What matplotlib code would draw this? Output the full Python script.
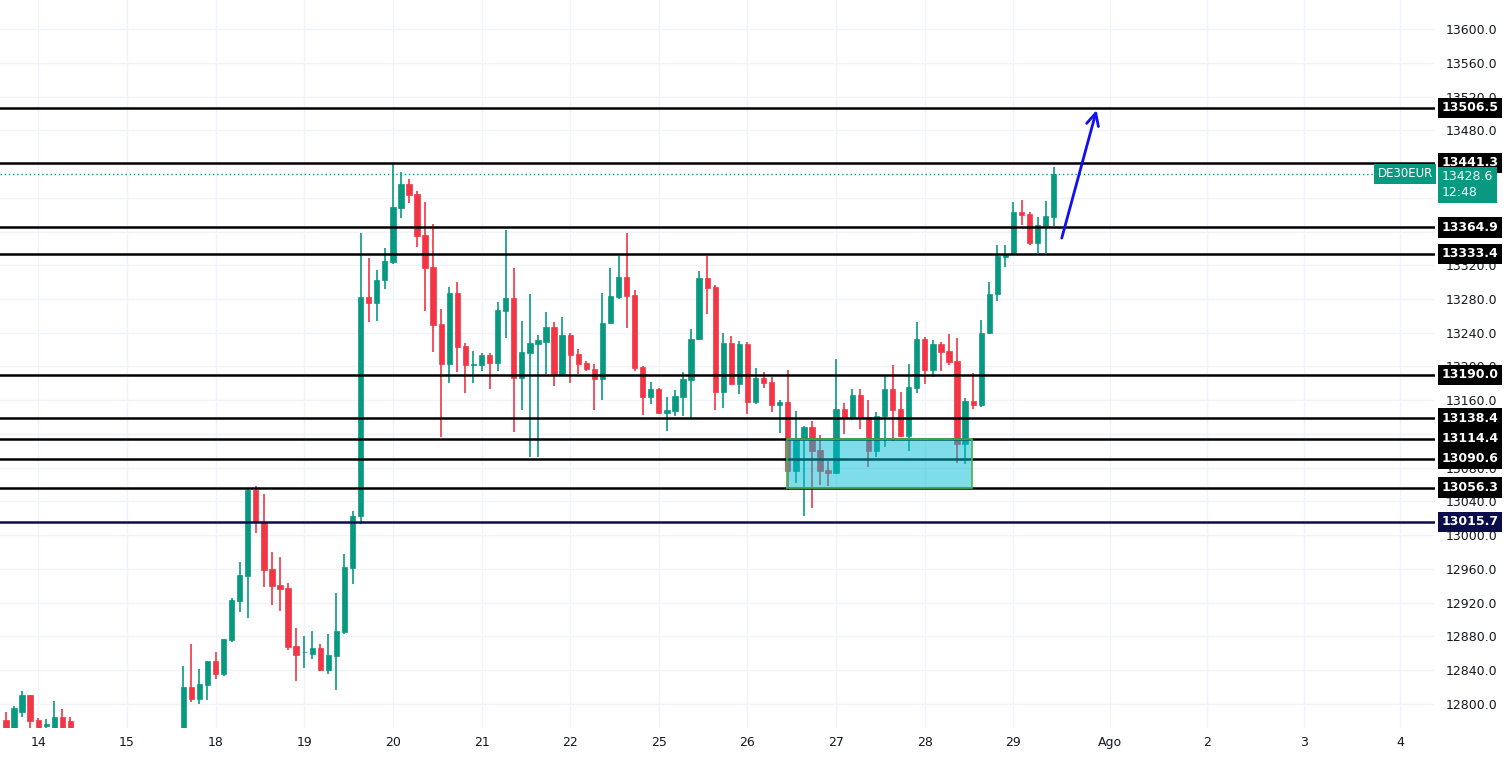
import numpy as np
import matplotlib.pyplot as plt
from matplotlib.patches import Rectangle
import matplotlib.transforms as mtransforms

nan = np.nan
# 2h candles of DE30EUR, index = bar number (gap = bars below the visible range)
opens = [12781, 12768, 12791, 12811, 12781, 12774, 12770, 12785, 12780] + [nan]*13 + [
    12770, 12820, 12806, 12822, 12851, 12835, 12876, 12922, 12952, 13054, 13016, 12960, 12941, 12937,
    12869, 12861, 12859, 12866, 12840, 12857, 12885, 12961, 13023, 13282, 13275, 13302, 13324, 13388,
    13416, 13404, 13356, 13318, 13250, 13203, 13287, 13224, 13202, 13202, 13214, 13204, 13266, 13281,
    13186, 13216, 13227, 13229, 13247, 13191, 13237, 13215, 13204, 13197, 13185, 13252, 13282, 13306,
    13285, 13199, 13164, 13173, 13145, 13147, 13164, 13184, 13232, 13305, 13294, 13170, 13228, 13179,
    13227, 13158, 13186, 13182, 13154, 13158, 13076, 13114, 13128, 13101, 13077, 13074, 13150, 13139,
    13166, 13140, 13100, 13141, 13173, 13150, 13118, 13175, 13233, 13196, 13227, 13218, 13206, 13108,
    13159, 13154, 13240, 13286, 13330, 13335, 13383, 13381, 13346, 13367, 13377]
highs = [12790, 12798, 12815, 12811, 12783, 12782, 12804, 12794, 12785] + [nan]*13 + [
    12845, 12871, 12842, 12851, 12862, 12877, 12926, 12968, 13056, 13058, 13049, 12980, 12974, 12943,
    12890, 12880, 12887, 12871, 12883, 12932, 12978, 13029, 13358, 13329, 13314, 13340, 13441, 13431,
    13422, 13408, 13395, 13369, 13268, 13294, 13300, 13228, 13218, 13216, 13216, 13276, 13362, 13317,
    13254, 13286, 13237, 13265, 13253, 13259, 13240, 13221, 13206, 13203, 13287, 13317, 13331, 13358,
    13291, 13201, 13182, 13175, 13164, 13172, 13194, 13245, 13313, 13331, 13296, 13240, 13236, 13230,
    13229, 13198, 13194, 13188, 13160, 13196, 13147, 13130, 13135, 13119, 13088, 13209, 13157, 13173,
    13173, 13160, 13146, 13190, 13202, 13170, 13203, 13253, 13235, 13231, 13229, 13239, 13234, 13163,
    13192, 13255, 13300, 13344, 13344, 13395, 13397, 13383, 13377, 13396, 13436]
lows = [12760, 12760, 12785, 12770, 12765, 12770, 12765, 12765, 12765] + [nan]*13 + [
    12760, 12802, 12800, 12805, 12829, 12833, 12874, 12909, 12902, 13003, 12939, 12917, 12910, 12864,
    12827, 12843, 12853, 12839, 12836, 12816, 12883, 12942, 13013, 13253, 13254, 13292, 13322, 13376,
    13394, 13342, 13266, 13217, 13116, 13180, 13193, 13169, 13180, 13195, 13173, 13195, 13234, 13122,
    13148, 13093, 13093, 13191, 13177, 13189, 13180, 13191, 13195, 13148, 13160, 13250, 13280, 13246,
    13195, 13143, 13156, 13144, 13124, 13141, 13141, 13139, 13231, 13262, 13148, 13151, 13178, 13167,
    13144, 13156, 13175, 13146, 13121, 13054, 13062, 13023, 13032, 13060, 13058, 13072, 13120, 13137,
    13126, 13081, 13093, 13105, 13112, 13117, 13100, 13169, 13179, 13188, 13195, 13202, 13086, 13085,
    13150, 13152, 13238, 13278, 13318, 13333, 13368, 13344, 13335, 13335, 13366]
closes = [12765, 12795, 12811, 12780, 12770, 12776, 12785, 12770, 12768] + [nan]*13 + [
    12820, 12806, 12824, 12851, 12835, 12877, 12923, 12953, 13054, 13017, 12959, 12940, 12936, 12868,
    12858, 12862, 12866, 12840, 12858, 12887, 12962, 13023, 13282, 13275, 13303, 13325, 13389, 13416,
    13403, 13355, 13317, 13249, 13203, 13287, 13223, 13202, 13203, 13214, 13204, 13267, 13281, 13186,
    13217, 13228, 13231, 13247, 13191, 13237, 13214, 13203, 13197, 13185, 13252, 13284, 13306, 13284,
    13198, 13164, 13173, 13145, 13148, 13165, 13185, 13233, 13305, 13293, 13170, 13228, 13179, 13227,
    13158, 13186, 13181, 13154, 13158, 13076, 13114, 13128, 13100, 13076, 13074, 13150, 13139, 13166,
    13139, 13100, 13141, 13173, 13148, 13118, 13176, 13233, 13196, 13227, 13217, 13205, 13108, 13159,
    13154, 13240, 13286, 13331, 13332, 13383, 13380, 13346, 13368, 13378, 13428.6]

levels = [13506.5, 13441.3, 13364.9, 13333.4, 13190.0, 13138.4, 13114.4, 13090.6, 13056.3, 13015.7]
level_colors = ['black']*9 + ['#0c0c4a']
last_price = 13428.6
zone = (96.9, 119.85, 13056.3, 13114.4)     # x0, x1, low, high
arrow_from = (130.9, 13349)
arrow_to = (135.4, 13507)

day_ticks = [4, 15, 26, 37, 48, 59, 70, 81, 92, 103, 114, 125, 137, 149, 161, 173]
day_labels = ['14', '15', '18', '19', '20', '21', '22', '25', '26', '27', '28', '29', 'Ago', '2', '3', '4']
price_ticks = np.arange(12800, 13601, 40)

GREEN = '#089981'
RED = '#f23645'

fig = plt.figure(figsize=(15.08, 7.6), dpi=100)
ax = fig.add_axes([0, 32/760, 1435/1508, 728/760])

for i in range(len(opens)):
    o, h, l, c = opens[i], highs[i], lows[i], closes[i]
    if np.isnan(o):
        continue
    col = GREEN if c >= o else RED
    ax.vlines(i, l, h, color=col, linewidth=1.2, zorder=2)
    ax.add_patch(Rectangle((i - 0.33, min(o, c)), 0.66, max(abs(c - o), 0.8),
                           facecolor=col, edgecolor=col, linewidth=0.5, zorder=3))

for lv, lc in zip(levels, level_colors):
    ax.axhline(lv, color=lc, linewidth=1.8, zorder=4)
ax.axhline(last_price, color=GREEN, linewidth=1, linestyle=(0, (1, 2)), zorder=4)

x0, x1, zl, zh = zone
ax.add_patch(Rectangle((x0, zl), x1 - x0, zh - zl, facecolor='#00bcd4', alpha=0.5,
                       edgecolor='none', zorder=5))
ax.add_patch(Rectangle((x0, zl), x1 - x0, zh - zl, facecolor='none',
                       edgecolor='#4caf50', linewidth=1.2, zorder=5))

ax.annotate('', xy=arrow_to, xytext=arrow_from,
            arrowprops=dict(arrowstyle='->', color='#1010f0', lw=2, mutation_scale=22), zorder=6)

ax.set_xlim(-0.74, 177.3)
ax.set_ylim(12771.5, 13634.4)
ax.set_xticks(day_ticks)
ax.set_xticklabels(day_labels)
ax.set_yticks(price_ticks)
ax.set_yticklabels([f'{v:.1f}' for v in price_ticks])
ax.yaxis.tick_right()
ax.tick_params(axis='both', length=0, labelsize=9, colors='#131722')
ax.tick_params(axis='y', pad=8)
ax.tick_params(axis='x', pad=6)
ax.grid(True, color='#f0f3fa', linewidth=1, zorder=0)
ax.set_axisbelow(True)
for s in ax.spines.values():
    s.set_visible(False)

trans = mtransforms.blended_transform_factory(ax.transAxes, ax.transData)
for lv, lc in zip(levels, level_colors):
    ax.text(1.0045, lv, f'{lv:.1f}', transform=trans, ha='left', va='center', fontsize=9,
            color='white', fontweight='bold', zorder=10,
            bbox=dict(boxstyle='square,pad=0.3', facecolor=lc, edgecolor='none'))
ax.text(1.0045, last_price + 4, f'{last_price:.1f}\n12:48', transform=trans, ha='left',
        va='top', fontsize=9, color='white', linespacing=1.3, zorder=10,
        bbox=dict(boxstyle='square,pad=0.3', facecolor=GREEN, edgecolor='none'))
ax.text(0.9985, last_price, 'DE30EUR', transform=trans, ha='right', va='center', fontsize=8.5,
        color='white', zorder=10,
        bbox=dict(boxstyle='square,pad=0.3', facecolor=GREEN, edgecolor='none'))

fig.savefig('out.png', dpi=100, facecolor='white')
